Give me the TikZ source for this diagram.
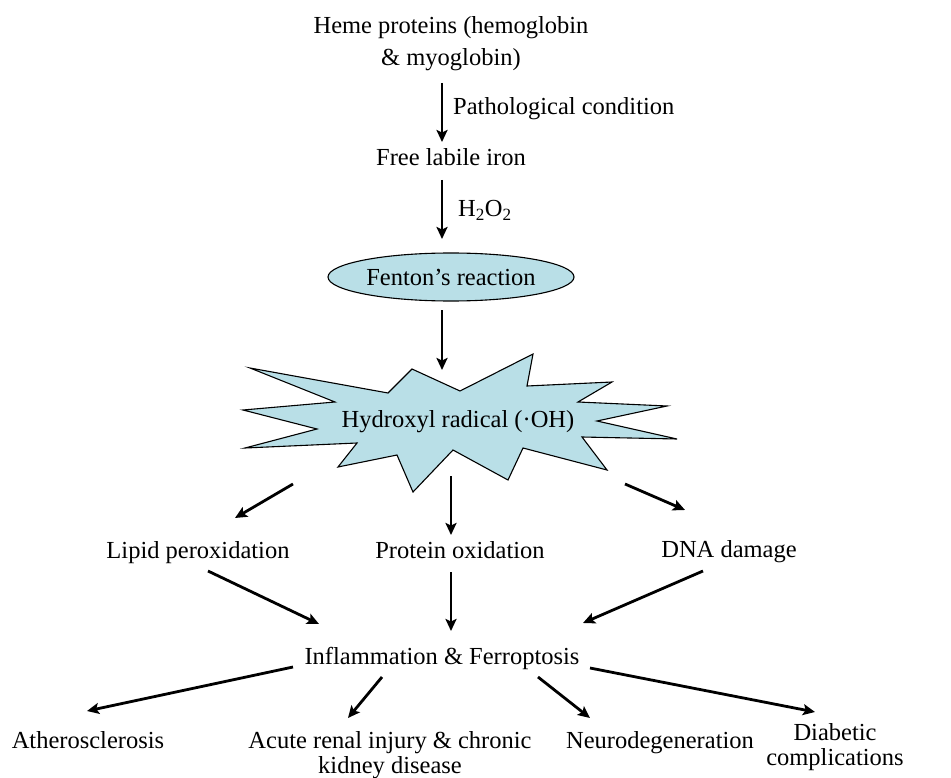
\documentclass[tikz,border=0pt]{standalone}
\usepackage{fontspec}
\setmainfont{Liberation Serif}
\usetikzlibrary{arrows.meta,shapes.geometric}
\definecolor{burstblue}{RGB}{185,223,231}
\begin{document}
\begin{tikzpicture}[x=1pt,y=-1pt,
  lbl/.style={inner sep=0pt, font=\fontsize{24.5}{25}\selectfont, anchor=base},
  arr/.style={line width=2.8pt, -{Stealth[length=12pt,width=11pt,inset=2.5pt]}},
  outl/.style={draw=black, line width=1.1pt, fill=burstblue}]
\useasboundingbox (0,0) rectangle (951,778);
\fill[white] (0,0) rectangle (951,778);

% starburst
\draw[outl, line join=miter] (250,368) -- (388,393) -- (412,369) -- (460,391) -- (533,354) -- (527,386)
  -- (612,382) -- (578,402) -- (667,406) -- (597,421) -- (677,439) -- (582,437)
  -- (607,470) -- (523,448) -- (508,480) -- (453,450) -- (413,492) -- (397,455)
  -- (338,467) -- (357,443) -- (245,448) -- (317,429) -- (243,410) -- (335,402) -- cycle;

% nodes (base of multi-line nodes = baseline of last line)
\node[lbl, align=center, font=\fontsize{24.5}{32}\selectfont] (heme) at (451,66) {Heme proteins (hemoglobin\\ \& myoglobin)};
\node[lbl, anchor=base west] (patho) at (453,115) {Pathological condition};
\node[lbl] (free) at (451,166) {Free labile iron};
\node[lbl, anchor=base west] (hoo) at (458,217) {H\textsubscript{2}O\textsubscript{2}};
\node[outl, ellipse, minimum width=246pt, minimum height=48pt, inner sep=0pt,
      font=\fontsize{24.5}{25}\selectfont] (fenton) at (451,277) {Fenton’s reaction};
\node[lbl] (hyd) at (458,427) {Hydroxyl radical (·OH)};
\node[lbl] (lipid) at (198,558) {Lipid peroxidation};
\node[lbl] (protein) at (460,558) {Protein oxidation};
\node[lbl] (dna) at (729,557) {DNA damage};
\node[lbl] (inflam) at (442,664) {Inflammation \& Ferroptosis};
\node[lbl] (ather) at (88,748) {Atherosclerosis};
\node[lbl, align=center] (acute) at (390,773) {Acute renal injury \& chronic\\kidney disease};
\node[lbl] (neuro) at (660,748) {Neurodegeneration};
\node[lbl, align=center] (diab) at (835,765) {Diabetic\\complications};

% connectors
\draw[arr] ([shift={(-9,17)}]heme.base) -- ([shift={(-9,-24)}]free.base);
\draw[arr] ([shift={(-9,14)}]free.base) -- ([shift={(-9,-38)}]fenton.center);
\draw[arr] ([shift={(-9,33)}]fenton.center) -- ([shift={(-16,-57)}]hyd.base);
\draw[arr] ([shift={(-165,57)}]hyd.base) -- ([shift={(37,-40)}]lipid.base);
\draw[arr] ([shift={(-7,49)}]hyd.base) -- ([shift={(-9,-23)}]protein.base);
\draw[arr] ([shift={(167,57)}]hyd.base) -- ([shift={(-44,-47)}]dna.base);
\draw[arr] ([shift={(10,13)}]lipid.base) -- ([shift={(-123,-40)}]inflam.base);
\draw[arr] ([shift={(-9,14)}]protein.base) -- ([shift={(9,-33)}]inflam.base);
\draw[arr] ([shift={(-26,14)}]dna.base) -- ([shift={(141,-41)}]inflam.base);
\draw[arr] ([shift={(-149,3)}]inflam.base) -- ([shift={(-1,-37)}]ather.base);
\draw[arr] ([shift={(-60,13)}]inflam.base) -- ([shift={(-42,-55)}]acute.base);
\draw[arr] ([shift={(96,13)}]inflam.base) -- ([shift={(-70,-30)}]neuro.base);
\draw[arr] ([shift={(148,4)}]inflam.base) -- ([shift={(-20,-53)}]diab.base);
\end{tikzpicture}
\end{document}
